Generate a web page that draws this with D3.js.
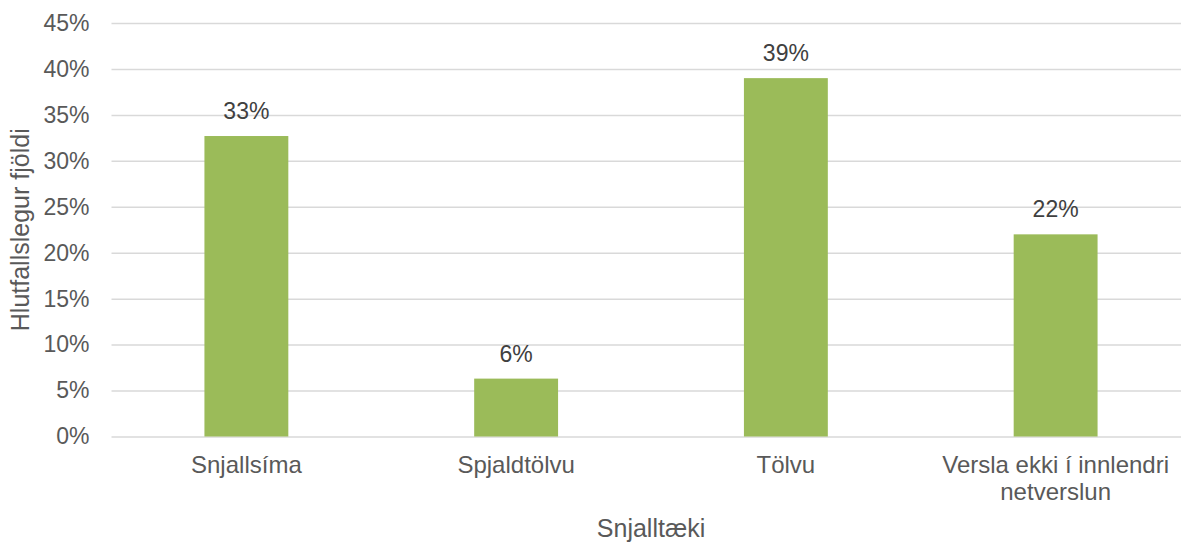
<!DOCTYPE html>
<html>
<head>
<meta charset="utf-8">
<script src="https://cdn.jsdelivr.net/npm/d3@7"></script>
<style>
  html, body { margin: 0; padding: 0; background: #fff; }
  svg { display: block; font-family: "Liberation Sans", Arial, sans-serif; }
</style>
</head>
<body>
<svg id="chart" width="1181" height="546"></svg>
<script>
// Device types used for online shopping
const categories = ["Snjallsíma", "Spjaldtölvu", "Tölvu", "Versla ekki í innlendri netverslun"];
const shares = [0.327, 0.063, 0.39, 0.22];
const yTicks = [0, 0.05, 0.10, 0.15, 0.20, 0.25, 0.30, 0.35, 0.40, 0.45];
const xTitle = "Snjalltæki";
const yTitle = "Hlutfallslegur fjöldi";

const FONT = "'Liberation Sans', Arial, sans-serif";
const svg = d3.select("#chart");
const margin = { top: 23, left: 111.5, bottom: 436.5, right: 1190.5 };

const x = d3.scaleBand()
  .domain(categories)
  .range([margin.left, margin.right])
  .paddingInner(0.689)
  .paddingOuter(0.3445);

const y = d3.scaleLinear()
  .domain([0, 0.45])
  .range([margin.bottom, margin.top]);

const pct = d3.format(".0%");

// Horizontal gridlines and percentage ticks
const yAxis = d3.axisLeft(y)
  .tickValues(yTicks)
  .tickFormat(pct)
  .tickSize(-(margin.right - margin.left))
  .tickPadding(22);

const gy = svg.append("g")
  .attr("transform", `translate(${margin.left},0)`)
  .call(yAxis);
gy.select(".domain").remove();
gy.selectAll(".tick line").attr("stroke", "#d9d9d9").attr("stroke-width", 1.5);
gy.selectAll(".tick text")
  .attr("fill", "#595959")
  .attr("font-size", 23)
  .attr("font-family", FONT);

// Bars
const rows = categories.map((c, i) => ({ c, v: shares[i] }));
svg.append("g")
  .selectAll("rect")
  .data(rows)
  .join("rect")
  .attr("x", d => x(d.c))
  .attr("width", x.bandwidth())
  .attr("y", d => y(d.v))
  .attr("height", d => y(0) - y(d.v))
  .attr("fill", "#9bbb59");

// Value labels
svg.append("g")
  .selectAll("text")
  .data(rows)
  .join("text")
  .attr("x", d => x(d.c) + x.bandwidth() / 2)
  .attr("y", d => y(d.v) - 17)
  .attr("text-anchor", "middle")
  .attr("fill", "#404040")
  .attr("font-size", 23)
  .attr("font-family", FONT)
  .text(d => pct(d.v));

// Category axis
const xAxis = d3.axisBottom(x).tickSize(0).tickPadding(0);
const gx = svg.append("g")
  .attr("transform", `translate(0,${margin.bottom})`)
  .call(xAxis);
gx.select(".domain").remove();
gx.selectAll(".tick text").remove();

// Category labels, wrapped onto two lines where the text is long
const lineBreaks = {
  "Versla ekki í innlendri netverslun": ["Versla ekki í innlendri", "netverslun"]
};
gx.selectAll(".tick").each(function(d) {
  const lines = lineBreaks[d] || [d];
  const t = d3.select(this).append("text")
    .attr("text-anchor", "middle")
    .attr("fill", "#595959")
    .attr("font-size", 24)
    .attr("font-family", FONT)
    .attr("y", 36);
  lines.forEach((ln, i) => {
    t.append("tspan").attr("x", 0).attr("dy", i === 0 ? 0 : 27).text(ln);
  });
});

// Axis titles
svg.append("text")
  .attr("x", (margin.left + margin.right) / 2)
  .attr("y", 537)
  .attr("text-anchor", "middle")
  .attr("fill", "#595959")
  .attr("font-size", 25)
  .attr("font-family", FONT)
  .text(xTitle);

svg.append("text")
  .attr("transform", `translate(29,${(margin.top + margin.bottom) / 2}) rotate(-90)`)
  .attr("text-anchor", "middle")
  .attr("fill", "#595959")
  .attr("font-size", 25)
  .attr("font-family", FONT)
  .text(yTitle);
</script>
</body>
</html>
